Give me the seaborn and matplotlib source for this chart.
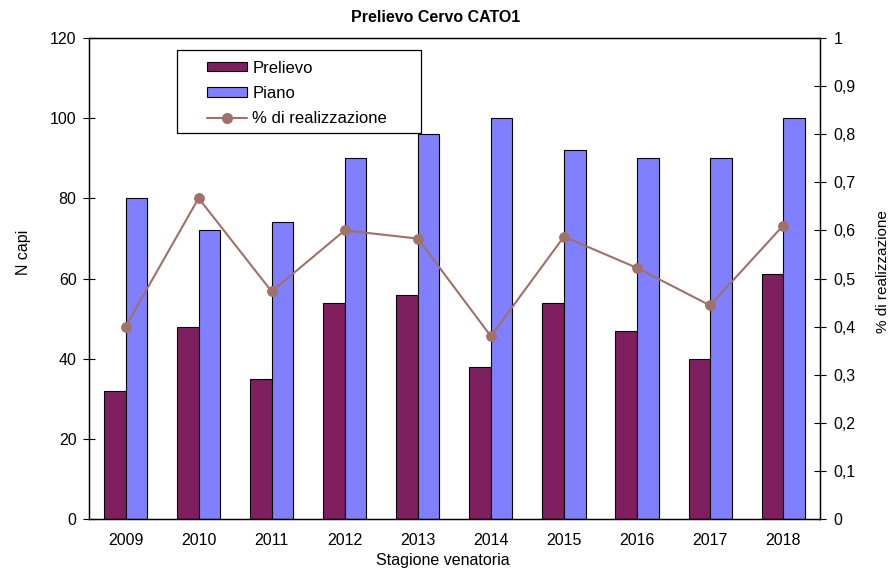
import numpy as np
import pandas as pd
import seaborn as sns
import matplotlib.pyplot as plt
from matplotlib.ticker import FuncFormatter, MultipleLocator

years = ["2009", "2010", "2011", "2012", "2013", "2014", "2015", "2016", "2017", "2018"]
prelievo = [32, 48, 35, 54, 56, 38, 54, 47, 40, 61]
piano = [80, 72, 74, 90, 96, 100, 92, 90, 90, 100]
realizzazione = [0.40, 0.667, 0.473, 0.60, 0.583, 0.38, 0.587, 0.522, 0.444, 0.61]

COL_PRELIEVO = "#7f1f5f"
COL_PIANO = "#8080ff"
COL_LINE = "#a0706a"
FS = 11.5


def build_frame():
    df = pd.DataFrame({"Stagione": years, "Prelievo": prelievo, "Piano": piano})
    return df.melt(id_vars="Stagione", var_name="Serie", value_name="N")


def main():
    sns.set_style("white")
    plt.rcParams["font.family"] = ["Liberation Sans", "DejaVu Sans"]
    plt.rcParams["font.size"] = FS
    plt.rcParams["text.color"] = "black"
    plt.rcParams["axes.labelcolor"] = "black"
    plt.rcParams["xtick.color"] = "black"
    plt.rcParams["ytick.color"] = "black"

    df = build_frame()
    fig = plt.figure(figsize=(8.9, 5.71), dpi=100)
    ax = fig.add_axes([0.1, 0.091, 0.821, 0.8425])

    sns.barplot(data=df, x="Stagione", y="N", hue="Serie",
                palette=[COL_PRELIEVO, COL_PIANO], width=0.59,
                edgecolor="black", linewidth=0.8, saturation=1, ax=ax)
    ax.legend_.remove()
    ax.set_xlim(-0.5, len(years) - 0.5)
    ax.set_ylim(0, 120)
    ax.yaxis.set_major_locator(MultipleLocator(20))
    ax.set_xlabel("Stagione venatoria", fontsize=FS)
    ax.set_ylabel("N capi", fontsize=FS)
    ax.xaxis.set_label_coords(0.484, -0.07)
    ax.yaxis.set_label_coords(-0.079, 0.555)
    fig.text(436 / 890, 1 - 17 / 571, "Prelievo Cervo CATO1", fontsize=11.5,
             fontweight="bold", ha="center", va="center")

    # ticks on category boundaries, labels in the middle
    ax.set_xticks(np.arange(-0.5, len(years), 1), minor=True)
    ax.tick_params(axis="x", which="major", length=0, pad=10, labelsize=FS)
    ax.tick_params(axis="x", which="minor", direction="inout", length=8, width=0.8, color="black")
    ax.tick_params(axis="y", which="major", direction="inout", length=8, width=0.8,
                   color="black", labelsize=FS, left=True, pad=5)

    ax2 = ax.twinx()
    sns.lineplot(x=np.arange(len(years)), y=realizzazione, color=COL_LINE,
                 marker="o", markersize=7, markeredgecolor=COL_LINE,
                 linewidth=1.5, ax=ax2)
    ax2.set_ylim(0, 1)
    ax2.yaxis.set_major_locator(MultipleLocator(0.1))
    ax2.yaxis.set_major_formatter(FuncFormatter(
        lambda v, p: "{:g}".format(round(v, 1)).replace(".", ",")))
    ax2.tick_params(axis="y", direction="inout", length=8, width=0.8,
                    color="black", labelsize=FS, right=True, pad=6)
    ax2.set_ylabel("% di realizzazione", fontsize=FS - 0.5)
    ax2.yaxis.set_label_coords(1.077, 0.515)

    for a in (ax, ax2):
        for s in a.spines.values():
            s.set_color("black")
            s.set_linewidth(0.9)

    # legend frame drawn separately (Excel-like wide padding)
    box = plt.Rectangle((0.120, 0.8025), 0.334, 0.1725, transform=ax2.transAxes,
                        facecolor="white", edgecolor="black", linewidth=0.9, zorder=5)
    ax2.add_patch(box)
    handles = [
        plt.Rectangle((0, 0), 1, 1, facecolor=COL_PRELIEVO, edgecolor="black", linewidth=0.8),
        plt.Rectangle((0, 0), 1, 1, facecolor=COL_PIANO, edgecolor="black", linewidth=0.8),
        plt.Line2D([], [], color=COL_LINE, marker="o", markersize=7, linewidth=1.5),
    ]
    leg = ax2.legend(handles, ["Prelievo", "Piano", "% di realizzazione"],
                     loc="upper left", bbox_to_anchor=(0.161, 0.953),
                     frameon=False, fontsize=12,
                     handlelength=2.4, handleheight=0.5, labelspacing=0.62,
                     borderpad=0, borderaxespad=0, handletextpad=0.35)
    leg.set_zorder(6)

    fig.savefig("out.png", dpi=100)


if __name__ == "__main__":
    main()
